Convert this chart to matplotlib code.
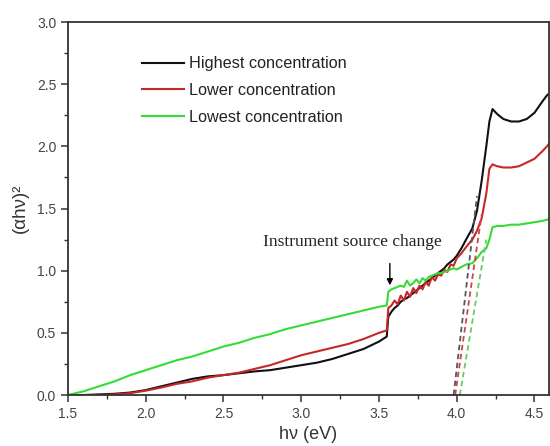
import numpy as np
import matplotlib
matplotlib.use('Agg')
import matplotlib.pyplot as plt
from matplotlib.ticker import MultipleLocator

# photon energy (eV), shared by the three spectra
energy = [1.5, 1.6, 1.7, 1.8, 1.9, 2.0, 2.1, 2.2, 2.3, 2.4, 2.5, 2.6, 2.7, 2.8, 2.9,
          3.0, 3.1, 3.2, 3.3, 3.4, 3.5, 3.55,
          3.56,
          3.58, 3.60, 3.62, 3.64, 3.66, 3.68, 3.70, 3.72, 3.74, 3.76, 3.78, 3.80,
          3.82, 3.84, 3.86, 3.88, 3.90, 3.92, 3.94, 3.96, 3.98, 4.00,
          4.03, 4.06, 4.10, 4.13, 4.16, 4.19, 4.21, 4.23, 4.26, 4.30, 4.35, 4.40,
          4.45, 4.50, 4.55, 4.58, 4.60]

highest = [0, 0, 0.005, 0.01, 0.02, 0.04, 0.07, 0.10, 0.13, 0.15, 0.16, 0.175, 0.19, 0.20, 0.22,
           0.24, 0.26, 0.29, 0.33, 0.37, 0.43, 0.47,
           0.63,
           0.67, 0.70, 0.72, 0.75, 0.77, 0.78, 0.80, 0.82, 0.84, 0.86, 0.88, 0.90,
           0.92, 0.94, 0.96, 0.98, 1.00, 1.02, 1.05, 1.07, 1.09, 1.12,
           1.18, 1.25, 1.34, 1.48, 1.72, 2.00, 2.20, 2.30, 2.26, 2.22, 2.20, 2.20,
           2.22, 2.27, 2.36, 2.41, 2.43]

lower = [0, 0, 0, 0.005, 0.015, 0.035, 0.06, 0.09, 0.11, 0.14, 0.16, 0.18, 0.21, 0.24, 0.28,
         0.32, 0.35, 0.38, 0.41, 0.45, 0.50, 0.52,
         0.70,
         0.72, 0.76, 0.73, 0.80, 0.76, 0.83, 0.79, 0.86, 0.82, 0.88, 0.85, 0.91,
         0.88, 0.95, 0.92, 0.97, 0.96, 1.01, 0.99, 1.05, 1.04, 1.10,
         1.14, 1.19, 1.25, 1.32, 1.42, 1.62, 1.82, 1.855, 1.84, 1.83, 1.83, 1.84,
         1.87, 1.90, 1.96, 2.00, 2.03]

lowest = [0, 0.03, 0.07, 0.11, 0.16, 0.20, 0.24, 0.28, 0.31, 0.35, 0.39, 0.42, 0.46, 0.49, 0.53,
          0.56, 0.59, 0.62, 0.65, 0.68, 0.71, 0.72,
          0.83,
          0.85, 0.86, 0.87, 0.88, 0.87, 0.92, 0.88, 0.90, 0.93, 0.90, 0.94, 0.92,
          0.95, 0.96, 0.97, 0.98, 0.98, 0.99, 1.00, 1.01, 1.02, 1.01,
          1.03, 1.05, 1.06, 1.10, 1.15, 1.18, 1.25, 1.35, 1.36, 1.36, 1.37, 1.37,
          1.38, 1.39, 1.40, 1.41, 1.42]

labels = ['Highest concentration', 'Lower concentration', 'Lowest concentration']
colors = ['#111111', '#c62828', '#33dd33']
fit_colors = ['#555566', '#cc4444', '#66cc66']

# linear extrapolations of the band edge: x-intercept and upper end point
onset = [3.98, 3.99, 4.02]
fit_top_x = [4.13, 4.16, 4.19]
fit_top_y = [1.60, 1.45, 1.25]

plt.rcParams['font.family'] = ['Liberation Sans', 'DejaVu Sans']

fig = plt.figure(figsize=(5.5, 4.46), dpi=100)
ax = fig.add_axes([0.1236, 0.1143, 0.8745, 0.8363])

for yv, c, lab in zip([highest, lower, lowest], colors, labels):
    ax.plot(energy, yv, color=c, lw=1.5, label=lab)

for x0, x1, y1, c in zip(onset, fit_top_x, fit_top_y, fit_colors):
    ax.plot([x0, x1], [0, y1], color=c, lw=1.3, ls=(0, (3, 2)))

ax.annotate('', xy=(3.57, 0.86), xytext=(3.57, 1.08),
            arrowprops=dict(arrowstyle='-|>', color='black', lw=1.0, mutation_scale=9))
ax.text(3.326, 1.23, 'Instrument source change', ha='center', va='center',
        family=['Liberation Serif', 'DejaVu Serif'], fontsize=12.5, color='#222222')

ax.set_xlim(1.5, 4.593)
ax.set_ylim(0, 3.0)
ax.xaxis.set_major_locator(MultipleLocator(0.5))
ax.xaxis.set_minor_locator(MultipleLocator(0.25))
ax.yaxis.set_major_locator(MultipleLocator(0.5))
ax.yaxis.set_minor_locator(MultipleLocator(0.25))
ax.tick_params(which='both', direction='out', colors='#333333', labelcolor='#444444',
               labelsize=10, top=False, right=False)
ax.tick_params(which='major', length=5, width=1.1)
ax.tick_params(which='minor', length=3, width=1.0)
for s in ax.spines.values():
    s.set_color('#333333')
    s.set_linewidth(1.3)

ax.set_xlabel('hν (eV)', fontsize=13, color='#333333', labelpad=4)
ax.set_ylabel('(αhν)²', fontsize=13.5, color='#333333', labelpad=6)

leg = ax.legend(loc='upper left', bbox_to_anchor=(0.154, 0.908), frameon=False,
                borderpad=0, borderaxespad=0, handlelength=2.6, handletextpad=0.3,
                labelspacing=0.72, fontsize=11.7)
for t in leg.get_texts():
    t.set_color('#222222')

fig.savefig('out.png', dpi=100)
